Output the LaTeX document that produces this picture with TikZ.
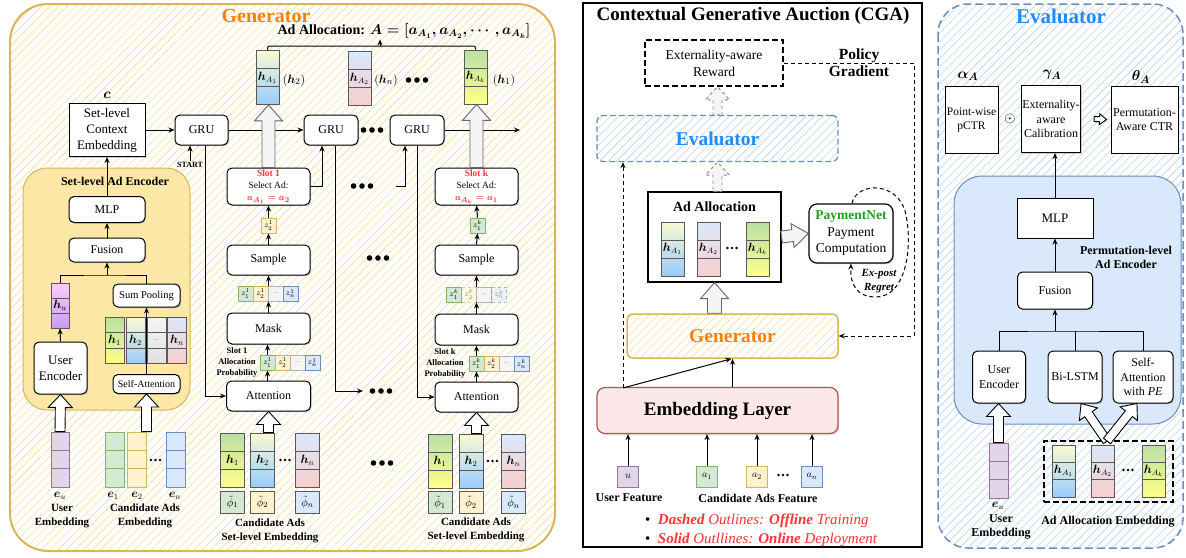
\documentclass[tikz,border=0pt]{standalone}
\usepackage{fontspec}
\setmainfont{Liberation Serif}
\usepackage{amsmath}
\usetikzlibrary{arrows.meta,calc,patterns.meta,shadows}

\definecolor{gold}{HTML}{D6B656}
\definecolor{genorange}{HTML}{FF8000}
\definecolor{encfill}{HTML}{FDE7A6}
\definecolor{evblue}{HTML}{6C8EBF}
\definecolor{evtext}{HTML}{1E8CFF}
\definecolor{evfill}{HTML}{DAE8FC}
\definecolor{slotred}{HTML}{FF3333}
\definecolor{payg}{HTML}{1FA01F}
\definecolor{embfill}{HTML}{FCE8E8}
\definecolor{grnF}{HTML}{D5E8D4}\definecolor{grnD}{HTML}{82B366}
\definecolor{ylwF}{HTML}{FFF2CC}\definecolor{ylwD}{HTML}{D6B656}
\definecolor{bluF}{HTML}{DAE8FC}\definecolor{bluD}{HTML}{6C8EBF}
\definecolor{redD}{HTML}{B85450}
\definecolor{purF}{HTML}{E1D5E7}\definecolor{purD}{HTML}{9673A6}
\definecolor{gryF}{HTML}{F5F5F5}\definecolor{gryD}{HTML}{666666}
\definecolor{hatchY}{HTML}{F3DE9C}
\definecolor{hatchB}{HTML}{BCD2F0}
\definecolor{gTop}{HTML}{B9E0A5}\definecolor{gBot}{HTML}{FFFF88}
\definecolor{yTop}{HTML}{FAFAD2}\definecolor{yBot}{HTML}{99CCFF}
\definecolor{bTop}{HTML}{DAE8FC}\definecolor{bBot}{HTML}{F8CECC}
\definecolor{pTop}{HTML}{FFCCFF}\definecolor{pBot}{HTML}{C89CF0}

\tikzset{
  arr/.style={line width=1pt, -{Stealth[length=6pt,width=5pt]}},
  ln/.style={line width=1pt},
  shdw/.style={drop shadow={shadow xshift=1.2pt,shadow yshift=-1.2pt,opacity=0.3,fill=black!60}},
  rbox/.style={draw, line width=1pt, fill=white, rounded corners=5pt, align=center,
    inner sep=1pt, font=\fontsize{12}{14}\selectfont, shdw},
  sbox/.style={rbox, sharp corners},
  vcol/.style={draw=#1, line width=0.8pt, minimum width=23pt, minimum height=54pt,
    inner sep=0pt, font=\fontsize{12}{13}\selectfont,
    path picture={\draw[#1, line width=0.8pt]
      ($(path picture bounding box.north west)!1/3!(path picture bounding box.south west)$) --
      ($(path picture bounding box.north east)!1/3!(path picture bounding box.south east)$)
      ($(path picture bounding box.north west)!2/3!(path picture bounding box.south west)$) --
      ($(path picture bounding box.north east)!2/3!(path picture bounding box.south east)$);}},
  vcol/.default=black!65,
  cell/.style 2 args={draw=#2, fill=#1, line width=0.8pt, minimum width=15pt,
    minimum height=15pt, inner sep=0pt, font=\fontsize{8}{9}\selectfont},
  fcell/.style 2 args={cell={#1}{#2}, dashed, fill opacity=0.45, draw opacity=0.6, text opacity=0.45},
  phic/.style={draw=black!65, fill=#1, line width=0.8pt, minimum width=24pt,
    minimum height=22pt, inner sep=0pt, font=\fontsize{11}{12}\selectfont},
  fbox/.style 2 args={draw=#2, fill=#1, line width=1pt, minimum size=21pt, inner sep=0pt,
    font=\fontsize{10}{11}\selectfont},
  lbl/.style={font=\bfseries\fontsize{11}{14}\selectfont, align=center, inner sep=0pt},
  lblb/.style={font=\bfseries\fontsize{12}{14}\selectfont, align=center, inner sep=0pt},
  plbl/.style={font=\bfseries\fontsize{8.5}{11}\selectfont, align=center, inner sep=0pt},
  mlbl/.style={font=\fontsize{12}{12}\selectfont, inner sep=0pt},
  wbig/.style={draw=black, fill=white, line width=0.9pt},
  gbig/.style={draw=gryD, fill=gryF, line width=0.9pt},
  dbig/.style={draw=gryD!80, fill=gryF, line width=0.9pt, dashed},
  hatchy/.style={preaction={fill=white}, pattern={Lines[angle=45,distance=6pt,line width=0.6pt]}, pattern color=hatchY},
  hatchb/.style={preaction={fill=white}, pattern={Lines[angle=45,distance=6pt,line width=0.6pt]}, pattern color=hatchB}
}

% hollow block arrow: [style]{from}{to}{shaft half width}{head half width}{head length}
\newcommand{\bigarrow}[6][]{%
  \path let \p1=(#2), \p2=(#3), \n1={atan2(\y2-\y1,\x2-\x1)}, \n2={veclen(\x2-\x1,\y2-\y1)} in
    \pgfextra{\xdef\baang{\n1}\xdef\balen{\n2}\xdef\bax{\x1}\xdef\bay{\y1}};
  \draw[#1, shift={(\bax,\bay)}, rotate=\baang]
    (0pt,-#4pt) -- ({\balen-#6},-#4pt) -- ({\balen-#6},-#5pt) -- ({\balen},0pt)
    -- ({\balen-#6},#5pt) -- ({\balen-#6},#4pt) -- (0pt,#4pt) -- cycle;
}
\newcommand{\bigdots}[2]{\foreach \i in {-1,0,1} \fill ({#1+\i*8.5},#2) circle (2.8pt);}
\newcommand{\smalldots}[2]{\foreach \i in {-1,0,1} \fill ({#1+\i*4.5},#2) circle (1.3pt);}
\newcommand{\gdots}{{\fontsize{6}{6}\selectfont\textcolor{black!55}{...}}}

\begin{document}
\begin{tikzpicture}[x=1pt,y=-1pt]
\useasboundingbox (0,0) rectangle (1186,557);

%% ================= Generator =================
\draw[gold, line width=2pt, rounded corners=38pt, hatchy] (10,4) rectangle (555,551);
\node[font=\bfseries\fontsize{20}{22}\selectfont, text=genorange] (gentitle) at (266,16) {Generator};

% set-level ad encoder
\draw[gold, line width=1pt, fill=encfill, rounded corners=24pt] (23,168) rectangle (190,410);
\node[lblb] (enclbl) at (115,181) {Set-level Ad Encoder};

\node[sbox, font=\fontsize{13}{16}\selectfont, minimum width=76pt, minimum height=53pt] (ctx) at (107,130) {Set-level\\Context\\Embedding};
\node[font=\fontsize{14}{14}\selectfont] (clbl) at (107,95) {$\boldsymbol{c}$};
\node[rbox, minimum width=53pt, minimum height=30pt] (gru1) at (201.5,130) {GRU};
\node[font=\bfseries\fontsize{8}{9}\selectfont, inner sep=1pt] (start) at (190,165) {START};

\node[rbox, minimum width=76pt, minimum height=26pt] (mlp1) at (107,209.5) {MLP};
\node[rbox, minimum width=76pt, minimum height=24pt] (fus1) at (107,250) {Fusion};
\node[vcol, top color=pTop, bottom color=pBot, minimum width=18pt, minimum height=45pt] (hu) at (60,305.5) {$\boldsymbol{h}_u$};
\node[rbox, minimum width=53pt, minimum height=52pt, font=\fontsize{13}{16}\selectfont] (ue1) at (60.5,368) {User\\Encoder};
\node[rbox, minimum width=67pt, minimum height=23pt, font=\fontsize{10.5}{12}\selectfont] (sp) at (146.5,295.5) {Sum Pooling};
\node[vcol, top color=gTop, bottom color=gBot, minimum width=19pt, minimum height=46pt] (c1) at (114.5,340.5) {$\boldsymbol{h}_1$};
\node[vcol, top color=yTop, bottom color=yBot, minimum width=19pt, minimum height=46pt] (c2) at (135.5,340.5) {$\boldsymbol{h}_2$};
\node[vcol, top color=gryF, bottom color=black!12, minimum width=19pt, minimum height=46pt] (c3) at (156.5,340.5) {\gdots};
\node[vcol, top color=bTop, bottom color=bBot, minimum width=19pt, minimum height=46pt] (c4) at (177,340.5) {$\boldsymbol{h}_n$};
\node[rbox, minimum width=67pt, minimum height=19pt, font=\fontsize{10}{11}\selectfont] (sa1) at (146.5,384) {Self-Attention};

\node[vcol=purD, fill=purF, minimum width=18pt, minimum height=55pt] (eu1) at (60,459.5) {};
\node[vcol=grnD, fill=grnF, minimum width=19pt, minimum height=55pt] (e1) at (114.5,459.5) {};
\node[vcol=ylwD, fill=ylwF, minimum width=19pt, minimum height=55pt] (e2) at (137,459.5) {};
\node[vcol=bluD, fill=bluF, minimum width=19pt, minimum height=55pt] (en) at (175.5,459.5) {};
\smalldots{155.5}{460}
\node[mlbl] (eulbl) at (60,496) {$\boldsymbol{e}_u$};
\node[mlbl] (e1lbl) at (113,496) {$\boldsymbol{e}_1$};
\node[mlbl] (e2lbl) at (137,496) {$\boldsymbol{e}_2$};
\node[mlbl] (enlbl) at (175,496) {$\boldsymbol{e}_n$};
\node[lbl] (uelbl) at (62,516) {User\\Embedding};
\node[lbl] (celbl) at (145,516) {Candidate Ads\\Embedding};

\draw[arr] (ctx.east) -- (gru1.west);
\draw[arr] (start.north) -- (start.north |- gru1.south);
\draw[arr] (mlp1.north) -- (ctx.south);
\draw[arr] (fus1.north) -- (mlp1.south);
\coordinate (tree1) at (107,275);
\draw[ln] (hu.north) |- (tree1) -| (sp.north);
\draw[arr] (tree1) -- (fus1.south);
\draw[arr] (ue1.north) -- (hu.south);
\draw[arr] (sa1.north) -- (sp.south);
\bigarrow[wbig]{eu1.north}{ue1.south}{5}{12}{13}
\bigarrow[wbig]{sa1.south |- e2.north}{sa1.south}{5}{12}{13}

% slot 1
\node[rbox, minimum width=83pt, minimum height=37pt, inner sep=0pt, font=\fontsize{9.5}{12.3}\selectfont] (slot1) at (268.5,186.5)
  {\textcolor{slotred}{\bfseries Slot 1}\\Select Ad:\\\textcolor{slotred}{$\boldsymbol{a_{A_1}=a_2}$}};
\node[cell={ylwF}{ylwD}] (s1z) at (268.5,225.5) {$z_2^1$};
\node[rbox, minimum width=83pt, minimum height=30pt] (samp1) at (268.5,260) {Sample};
\node[cell={grnF}{grnD}] (s1r1) at (245.5,293.5) {$z_1^1$};
\node[cell={ylwF}{ylwD}] (s1r2) at (260.5,293.5) {$z_2^1$};
\node[cell={gryF}{black!30}] (s1r3) at (275.5,293.5) {\gdots};
\node[cell={bluF}{bluD}] (s1r4) at (290.5,293.5) {$z_n^1$};
\node[rbox, minimum width=83pt, minimum height=31pt] (mask1) at (268.5,328.5) {Mask};
\node[cell={grnF}{grnD}] (s1p1) at (267.5,362.5) {$z_1^1$};
\node[cell={ylwF}{ylwD}] (s1p2) at (282.5,362.5) {$z_2^1$};
\node[cell={gryF}{black!30}] (s1p3) at (297.5,362.5) {\gdots};
\node[cell={bluF}{bluD}] (s1p4) at (312.5,362.5) {$z_n^1$};
\node[plbl] (s1lbl) at (237,362) {Slot 1\\Allocation\\Probability};
\node[rbox, minimum width=84pt, minimum height=30pt] (att1) at (268.5,396) {Attention};
\node[vcol, top color=gTop, bottom color=gBot, minimum width=24pt] (a1h1) at (232.5,460) {$\boldsymbol{h}_1$};
\node[vcol, top color=yTop, bottom color=yBot, minimum width=24pt] (a1h2) at (262.5,460) {$\boldsymbol{h}_2$};
\node[vcol, top color=bTop, bottom color=bBot, minimum width=24pt] (a1hn) at (307.5,460) {$\boldsymbol{h}_n$};
\smalldots{285}{460}
\node[phic=grnF] (a1p1) at (232.5,502) {$\tilde{\phi}_1$};
\node[phic=ylwF] (a1p2) at (262.5,502) {$\tilde{\phi}_2$};
\node[phic=bluF] (a1pn) at (307.5,502) {$\tilde{\phi}_n$};
\node[lbl] (a1lbl) at (270,531) {Candidate Ads\\Set-level Embedding};

\draw[arr] (s1p1.south |- att1.north) -- (s1p1.south);
\draw[arr] (s1p1.north) -- (s1p1.north |- mask1.south);
\draw[arr] (mask1.north) -- (mask1.north |- s1r2.south);
\draw[arr] (samp1.south |- s1r2.north) -- (samp1.south);
\draw[arr] (samp1.north) -- (s1z.south);
\draw[arr] (s1z.north) -- (slot1.south);
\bigarrow[wbig]{att1.south |- a1h2.north}{att1.south}{5}{12}{13}

% slot k
\node[rbox, minimum width=83pt, minimum height=37pt, inner sep=0pt, font=\fontsize{9.5}{12.3}\selectfont] (slotk) at (476.5,186.5)
  {\textcolor{slotred}{\bfseries Slot k}\\Select Ad:\\\textcolor{slotred}{$\boldsymbol{a_{A_k}=a_1}$}};
\node[cell={grnF}{grnD}] (skz) at (477.5,225.5) {$z_1^k$};
\node[rbox, minimum width=83pt, minimum height=30pt] (sampk) at (476.5,260) {Sample};
\node[cell={grnF}{grnD}] (skr1) at (454,294.5) {$z_1^k$};
\node[fcell={ylwF}{ylwD}] (skr2) at (469,294.5) {$z_2^k$};
\node[cell={gryF}{black!30}] (skr3) at (484,294.5) {\gdots};
\node[fcell={bluF}{bluD}] (skr4) at (499,294.5) {$z_n^k$};
\node[rbox, minimum width=83pt, minimum height=31pt] (maskk) at (476.5,329.5) {Mask};
\node[cell={grnF}{grnD}] (skp1) at (476.5,363.5) {$z_1^k$};
\node[cell={ylwF}{ylwD}] (skp2) at (491.5,363.5) {$z_2^k$};
\node[cell={gryF}{black!30}] (skp3) at (506.5,363.5) {\gdots};
\node[cell={bluF}{bluD}] (skp4) at (521.5,363.5) {$z_n^k$};
\node[plbl] (sklbl) at (445,363) {Slot k\\Allocation\\Probability};
\node[rbox, minimum width=83pt, minimum height=30pt] (attk) at (476.5,397) {Attention};
\node[vcol, top color=gTop, bottom color=gBot, minimum width=24pt] (bkh1) at (440,461) {$\boldsymbol{h}_1$};
\node[vcol, top color=yTop, bottom color=yBot, minimum width=24pt] (bkh2) at (471,461) {$\boldsymbol{h}_2$};
\node[vcol, top color=bTop, bottom color=bBot, minimum width=24pt] (bkhn) at (513.5,461) {$\boldsymbol{h}_n$};
\smalldots{492.5}{461}
\node[phic=grnF] (bkp1) at (440,502.5) {$\tilde{\phi}_1$};
\node[phic=ylwF] (bkp2) at (471,502.5) {$\tilde{\phi}_2$};
\node[phic=bluF] (bkpn) at (513.5,502.5) {$\tilde{\phi}_n$};
\node[lbl] (bklbl) at (476,530) {Candidate Ads\\Set-level Embedding};

\draw[arr] (skp1.south |- attk.north) -- (skp1.south);
\draw[arr] (skp1.north) -- (skp1.north |- maskk.south);
\draw[arr] (maskk.north) -- (maskk.north |- skr2.south);
\draw[arr] (sampk.south |- skr2.north) -- (sampk.south);
\draw[arr] (sampk.north) -- (skz.south);
\draw[arr] (skz.north) -- (slotk.south);
\bigarrow[wbig]{attk.south |- bkh2.north}{attk.south}{5}{12}{13}

% GRU chain
\node[rbox, minimum width=54pt, minimum height=30pt] (gru2) at (331,130) {GRU};
\node[rbox, minimum width=54pt, minimum height=30pt] (gru3) at (417,130) {GRU};
\coordinate (gout) at (520,130);
\coordinate (g2end) at (363,391);
\coordinate (s2out) at (396,186);
\bigdots{372}{130}
\bigdots{362}{186}
\bigdots{381}{391}
\bigdots{378}{258}
\bigdots{382}{463}
\draw[arr] (gru1.east) -- (gru2.west);
\draw[arr] (gru3.east) -- (gout);
\draw[arr] ([xshift=3.5pt]gru1.south) |- (att1.west);
\draw[arr] ([xshift=4pt]gru2.south) |- (g2end);
\draw[arr] (gru3.south) |- (attk.west);
\draw[arr] (slot1.east) -| ([xshift=-9pt]gru2.south);
\draw[arr] (s2out) -| ([xshift=-12pt]gru3.south);

% allocation on top
\node[vcol, top color=yTop, bottom color=yBot] (hA1) at (267.5,77.5) {$\boldsymbol{h}_{A_1}$};
\node[vcol, top color=bTop, bottom color=bBot] (hA2) at (359.5,78.5) {$\boldsymbol{h}_{A_2}$};
\node[vcol, top color=gTop, bottom color=gBot] (hAk) at (475.5,77) {$\boldsymbol{h}_{A_k}$};
\node[mlbl, font=\fontsize{13}{13}\selectfont] (hA1lbl) at (294,80) {$(\boldsymbol{h}_2)$};
\node[mlbl, font=\fontsize{13}{13}\selectfont] (hA2lbl) at (386,80) {$(\boldsymbol{h}_n)$};
\node[mlbl, font=\fontsize{13}{13}\selectfont] (hAklbl) at (504,80) {$(\boldsymbol{h}_1)$};
\bigdots{417}{80}
\node[font=\bfseries\fontsize{14}{16}\selectfont, inner sep=1pt] (alloc) at (404,31)
  {Ad Allocation: $\boldsymbol{A=[a_{A_1},a_{A_2},\cdots,a_{A_k}]}$};
\coordinate (brk) at (380,46);
\draw[ln, rounded corners=2pt] (hA1.north) -- (hA1.north |- brk) -- (hAk.north |- brk) -- (hAk.north);
\draw[arr] (brk) -- (brk |- alloc.south);
\bigarrow[gbig]{slot1.north}{slot1.north |- hA1.south}{6.5}{14}{16}
\bigarrow[gbig]{slotk.north}{slotk.north |- hAk.south}{6.5}{14}{16}

%% ================= CGA =================
\draw[line width=1.2pt, fill=white] (583,3) rectangle (922,547);
\node[font=\bfseries\fontsize{19}{20}\selectfont] (cgatitle) at (753,16) {Contextual Generative Auction (CGA)};
\node[draw, line width=1.6pt, dash pattern=on 6pt off 3pt, minimum width=138pt, minimum height=46pt, align=center,
  font=\fontsize{13.5}{17}\selectfont, fill=white] (rew) at (714,63) {Externality-aware\\Reward};
\node[draw=evblue, line width=1.3pt, dash pattern=on 6pt off 3pt, rounded corners=6pt, minimum width=241pt, minimum height=46pt,
  hatchb, font=\bfseries\fontsize{19.5}{20}\selectfont, text=evtext] (evalm) at (717.5,138.5) {Evaluator};
\node[draw, line width=1.2pt, fill=white, minimum width=133pt, minimum height=90pt, shdw] (allocm) at (714.5,237) {};
\node[font=\bfseries\fontsize{14}{16}\selectfont] (allocmt) at (714.5,207) {Ad Allocation};
\node[vcol, top color=yTop, bottom color=yBot] (mA1) at (672.5,249) {$\boldsymbol{h}_{A_1}$};
\node[vcol, top color=bTop, bottom color=bBot] (mA2) at (708.5,249) {$\boldsymbol{h}_{A_2}$};
\node[vcol, top color=gTop, bottom color=gBot] (mAk) at (757.5,249) {$\boldsymbol{h}_{A_k}$};
\smalldots{732}{248}
\node[rbox, line width=1.2pt, rounded corners=8pt, minimum width=84pt, minimum height=59pt, font=\fontsize{13.5}{16.5}\selectfont] (payn) at (851,233.5)
  {\textcolor{payg}{\bfseries PaymentNet}\\Payment\\Computation};
\node[draw=gold, line width=1.5pt, rounded corners=6pt, minimum width=211pt, minimum height=44pt, hatchy,
  font=\bfseries\fontsize{19.5}{20}\selectfont, text=genorange] (genm) at (732.5,336) {Generator};
\node[draw=redD, line width=1.2pt, rounded corners=8pt, fill=embfill, minimum width=241pt, minimum height=46pt,
  font=\bfseries\fontsize{19}{20}\selectfont, shdw] (emb) at (717.5,410.5) {Embedding Layer};

\node[fbox={purF}{purD}] (fu) at (628,476.5) {$u$};
\node[fbox={grnF}{grnD}] (fa1) at (707,476.5) {$a_1$};
\node[fbox={ylwF}{ylwD}] (fa2) at (757,476.5) {$a_2$};
\node[fbox={bluF}{bluD}] (fan) at (812,476.5) {$a_n$};
\smalldots{783}{475}
\foreach \f in {fu,fa1,fa2,fan} \draw[arr] (\f.north) -- (\f.north |- emb.south);
\node[lblb] (uflbl) at (629,498) {User Feature};
\node[lblb] (cflbl) at (758,498) {Candidate Ads Feature};
\node[anchor=west, font=\itshape\fontsize{15}{18}\selectfont, text=slotred, inner sep=0pt] (note1) at (645,521)
  {\textcolor{black}{\upshape\textbullet}\ \ \textbf{Dashed} Outlines: \textbf{Offline} Training};
\node[anchor=west, font=\itshape\fontsize{15}{18}\selectfont, text=slotred, inner sep=0pt] (note2) at (645,540)
  {\textcolor{black}{\upshape\textbullet}\ \ \textbf{Solid} Outllines: \textbf{Online} Deployment};

\coordinate (embL) at (623,388);
\coordinate (pgc) at (914,63);
\draw[arr, dash pattern=on 4pt off 3pt] (embL) -- (embL |- evalm.south);
\draw[arr] (embL) -- ([xshift=-1pt]genm.south);
\draw[arr] (genm.south |- emb.north) -- (genm.south);
\draw[arr, dash pattern=on 4pt off 3pt] (rew.east) -- (pgc) -- (pgc |- genm.east) -- (genm.east);
\node[font=\bfseries\fontsize{15.5}{17}\selectfont, align=center, inner sep=0pt] (pglbl) at (859,63) {Policy\\Gradient};
\draw[arr, dash pattern=on 4pt off 3pt] ([xshift=1pt]payn.north) .. controls (856,182) and (899,180) .. (906,215)
  .. controls (913,250) and (905,297) .. (876,297) .. controls (857,297) and (850,285) .. (payn.south);
\node[font=\bfseries\itshape\fontsize{11}{14.5}\selectfont, align=center, inner sep=0pt] (erlbl) at (879,281) {Ex-post\\Regret};
\bigarrow[dbig]{evalm.north}{evalm.north |- rew.south}{4.5}{12}{13}
\bigarrow[dbig]{evalm.south |- allocm.north}{evalm.south}{4.5}{12}{13}
\bigarrow[gbig]{allocm.south |- genm.north}{allocm.south}{7}{14}{16}
\bigarrow[gbig]{allocm.east}{payn.west}{6}{12}{16}

%% ================= Evaluator =================
\draw[evblue, line width=1.5pt, dash pattern=on 8pt off 4pt, rounded corners=30pt, hatchb] (938,4) rectangle (1183,548);
\node[font=\bfseries\fontsize{21}{22}\selectfont, text=evtext] (evtitle) at (1061,16) {Evaluator};
\node[font=\fontsize{15}{15}\selectfont] (alpha) at (968,76) {$\boldsymbol{\alpha_A}$};
\node[font=\fontsize{15}{15}\selectfont] (gamma) at (1052,75) {$\boldsymbol{\gamma_A}$};
\node[font=\fontsize{15}{15}\selectfont] (theta) at (1141,77) {$\boldsymbol{\theta_A}$};
\node[sbox, minimum width=53pt, minimum height=67pt, font=\fontsize{11.5}{14}\selectfont] (pctr) at (971.5,119.5) {Point-wise\\pCTR};
\node[font=\fontsize{15}{15}\selectfont] (odot) at (1010,119) {$\odot$};
\node[sbox, minimum width=58pt, minimum height=67pt, font=\fontsize{12}{14.5}\selectfont] (calib) at (1051,119) {Externality-\\aware\\Calibration};
\node[sbox, minimum width=67pt, minimum height=67pt] (pac) at (1144.5,119.5) {Permutation-\\Aware CTR};
\bigarrow[wbig]{[xshift=13pt]calib.east}{[xshift=-4pt]pac.west}{2.5}{5.5}{7}

\draw[evblue, line width=1pt, fill=evfill, rounded corners=28pt] (954,176) rectangle (1181,424);
\node[lblb] (pelbl) at (1126,257) {Permutation-level\\Ad Encoder};
\node[sbox, minimum width=76pt, minimum height=40pt, font=\fontsize{13}{14}\selectfont] (mlp2) at (1055,218) {MLP};
\node[rbox, minimum width=75pt, minimum height=37pt] (fus2) at (1055,290.5) {Fusion};
\node[rbox, minimum width=53pt, minimum height=52pt, font=\fontsize{12}{15}\selectfont] (ue2) at (999,377) {User\\Encoder};
\node[rbox, minimum width=54pt, minimum height=52pt] (bilstm) at (1075,377) {Bi-LSTM};
\node[rbox, minimum width=60pt, minimum height=52pt, font=\fontsize{12}{14.5}\selectfont] (sape) at (1143,377) {Self-\\Attention\\with \textit{PE}};
\coordinate (tree2) at (1055,331);
\draw[ln] (ue2.north) |- (tree2) -| (sape.north);
\draw[ln] (bilstm.north) -- (bilstm.north |- tree2);
\draw[arr] (tree2) -- (fus2.south);
\draw[arr] (fus2.north) -- (mlp2.south);
\draw[arr] (mlp2.north) -- (mlp2.north |- calib.south);

\node[vcol=purD, fill=purF, minimum width=19pt, minimum height=55pt] (eu2) at (998.5,470.5) {};
\node[draw, line width=1.5pt, dash pattern=on 6pt off 3pt, minimum width=129pt, minimum height=61pt] (aae) at (1108.5,471.5) {};
\node[vcol, top color=yTop, bottom color=yBot, minimum height=52pt] (rA1) at (1063.5,471) {$\boldsymbol{h}_{A_1}$};
\node[vcol, top color=bTop, bottom color=bBot, minimum height=52pt] (rA2) at (1102.5,471) {$\boldsymbol{h}_{A_2}$};
\node[vcol, top color=gTop, bottom color=gBot, minimum height=52pt] (rAk) at (1153.5,471) {$\boldsymbol{h}_{A_k}$};
\smalldots{1128}{470}
\node[mlbl] (eu2lbl) at (998,506) {$\boldsymbol{e}_u$};
\node[lblb] (ue2lbl) at (1001,527) {User\\Embedding};
\node[lblb] (aaelbl) at (1108,522) {Ad Allocation Embedding};
\coordinate (aaetop) at (1107,441);
\bigarrow[wbig]{eu2.north}{eu2.north |- ue2.south}{5}{12}{13}
\bigarrow[wbig]{aaetop}{[xshift=6pt]bilstm.south}{4.5}{11}{13}
\bigarrow[wbig]{aaetop}{[xshift=-6pt]sape.south}{4.5}{11}{13}

\end{tikzpicture}
\end{document}
